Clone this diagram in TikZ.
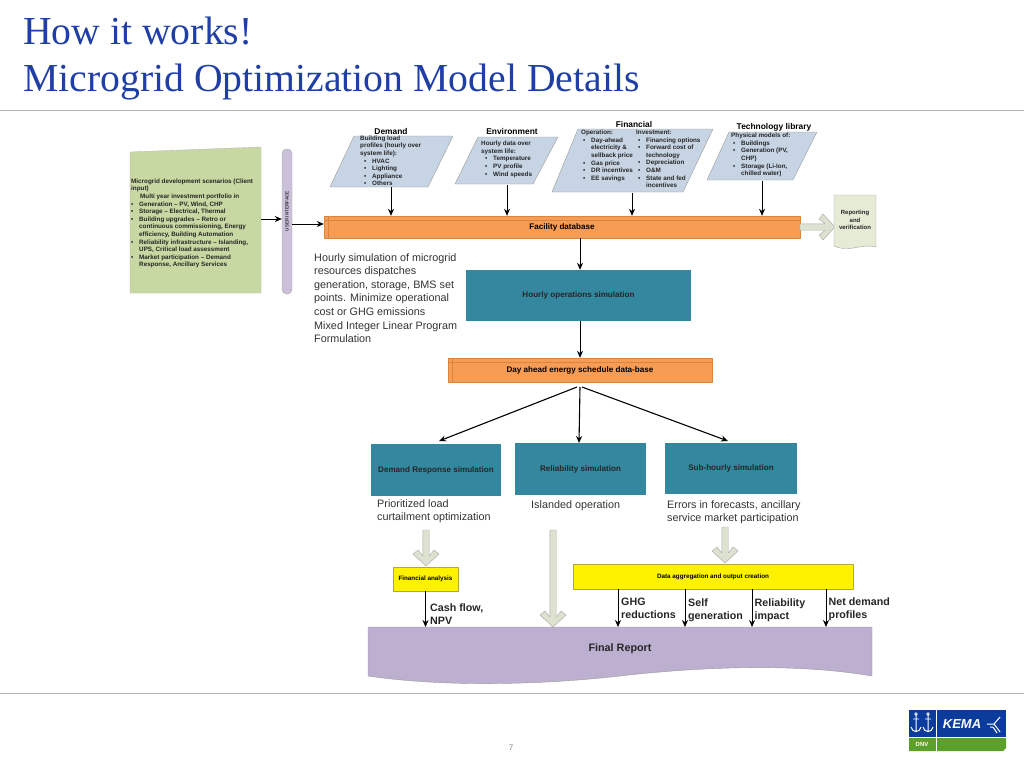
\documentclass[tikz,border=0pt]{standalone}
\usepackage{fontspec}
\usetikzlibrary{arrows.meta}
\setmainfont{Liberation Sans}
\newfontfamily\titlefont{Liberation Serif}
\definecolor{titleblue}{HTML}{1F3FA6}
\definecolor{rulegrey}{HTML}{B4B4B4}
\definecolor{scenariogreen}{HTML}{C8D8A2}
\definecolor{uililac}{HTML}{CBC0DA}
\definecolor{inputblue}{HTML}{C6D4E4}
\definecolor{dbaorange}{HTML}{F69C55}
\definecolor{dbedge}{HTML}{D9853F}
\definecolor{simteal}{HTML}{33879F}
\definecolor{reportlilac}{HTML}{BDAFD0}
\definecolor{arrowgrey}{HTML}{DDE2D0}
\definecolor{docgreen}{HTML}{E6EBD6}
\definecolor{kemablue}{HTML}{0B3C9C}
\definecolor{kemagreen}{HTML}{5CA02C}
\definecolor{textgrey}{HTML}{333333}
\newcommand{\bul}{\makebox[8pt][l]{\textbullet}}
\newcommand{\cont}{\hspace*{8pt}}
\newcommand{\blockarrow}[3]{%
  \draw[blockarrow, shift={(#1)}, rotate=#2] (0,0) -- (13,-12) -- (8,-16) -- (3.2,-10)
    -- (3.2,-#3) -- (-3.2,-#3) -- (-3.2,-10) -- (-8,-16) -- (-13,-12) -- cycle;}
\tikzset{
  blockarrow/.style={fill=arrowgrey, draw=gray!70, line width=0.4pt},
  inputshape/.style={fill=inputblue, draw=gray!80, line width=0.4pt},
  tiny text/.style={inner sep=0pt, align=left, anchor=north west, text=black!85,
    font=\fontsize{6.3}{7.6}\selectfont\bfseries},
  group title/.style={inner sep=0pt, font=\fontsize{8.4}{9}\selectfont\bfseries},
  dbbar/.style={fill=dbaorange, draw=dbedge, line width=0.4pt, inner sep=0pt,
    font=\fontsize{8.1}{9}\selectfont\bfseries},
  simbox/.style={fill=simteal, inner sep=0pt, text=black!85,
    font=\fontsize{8.1}{9}\selectfont\bfseries},
  yellowbox/.style={fill=yellow, draw=olive!70, line width=0.4pt, inner sep=0pt,
    font=\fontsize{6.3}{7}\selectfont\bfseries},
  note/.style={inner sep=0pt, align=left, anchor=north west, text=textgrey,
    font=\fontsize{10.8}{13.6}\selectfont},
  boldnote/.style={inner sep=0pt, align=left, anchor=north west, text=black!85,
    font=\fontsize{10.7}{13}\selectfont\bfseries},
  flow/.style={->, line width=0.9pt},
  thinflow/.style={->, line width=0.7pt},
}
\begin{document}
\begin{tikzpicture}[>={Stealth[length=7pt,width=6pt]}, x=1pt, y=-1pt, line join=round]
    \useasboundingbox (0,0) rectangle (1024,768);

    % Title and rules
    \node[anchor=base west, inner sep=0pt, text=titleblue, font=\fontsize{39.7}{42}\selectfont\titlefont] (titleA) at (23,45) {How it works!};
    \node[anchor=base west, inner sep=0pt, text=titleblue, font=\fontsize{39.7}{42}\selectfont\titlefont] (titleB) at (23,91) {Microgrid Optimization Model Details};
    \draw[rulegrey, line width=0.6pt] (0,110) -- (1024,110);
    \draw[rulegrey, line width=0.6pt] (0,693) -- (1024,693);
    \node[text=gray, inner sep=0pt, font=\fontsize{8}{9}\selectfont] (pageNo) at (511,748) {7};

    % Client scenarios
    \draw[fill=scenariogreen, draw=gray!60, line width=0.3pt] (130,152) -- (261,147) -- (261,293) -- (130,293) -- cycle;
    \node[tiny text] (scenarioTxt) at (131,178.5) {Microgrid development scenarios (Client\\input)\\
      \cont\hspace{1pt}Multi year investment portfolio in\\
      \bul Generation -- PV, Wind, CHP\\
      \bul Storage -- Electrical, Thermal\\
      \bul Building upgrades -- Retro or\\
      \cont continuous commissioning, Energy\\
      \cont efficiency, Building Automation\\
      \bul Reliability infrastructure -- Islanding,\\
      \cont UPS, Critical load assessment\\
      \bul Market participation -- Demand\\
      \cont Response, Ancillary Services};
    \node[fill=uililac, draw=gray!70, line width=0.4pt, rounded corners=4.5pt, minimum width=10pt, minimum height=145pt, inner sep=0pt] (uiBar) at (287,221.5) {};
    \node[rotate=90, inner sep=0pt, text=black!80, font=\fontsize{4.6}{5}\selectfont\bfseries] (uiTxt) at (287,211) {USER INTERFACE};

    % Input data groups
    \draw[inputshape] (354,136) -- (453,136) -- (428,187) -- (330,187) -- cycle;
    \node[group title] (demandTtl) at (391,131) {Demand};
    \node[tiny text] (demandTxt) at (360,135.5) {Building load\\profiles (hourly over\\system life):\\
      \hspace{4pt}\bul HVAC\\\hspace{4pt}\bul Lighting\\\hspace{4pt}\bul Appliance\\\hspace{4pt}\bul Others};
    \coordinate (demandOut) at (391,187);

    \draw[inputshape] (478,137) -- (558,137) -- (533,184) -- (455,184) -- cycle;
    \node[group title] (envTtl) at (512,131.5) {Environment};
    \node[tiny text] (envTxt) at (481,141) {Hourly data over\\system life:\\
      \hspace{4pt}\bul Temperature\\\hspace{4pt}\bul PV profile\\\hspace{4pt}\bul Wind speeds};
    \coordinate (envOut) at (507,185);

    \draw[inputshape] (578,129) -- (713,129) -- (683,192) -- (552,192) -- cycle;
    \node[group title] (finTtl) at (634,124.5) {Financial};
    \node[tiny text] (opTxt) at (581,130) {Operation:\\
      \hspace{2pt}\bul Day-ahead\\\hspace{2pt}\cont electricity \&\\\hspace{2pt}\cont sellback price\\
      \hspace{2pt}\bul Gas price\\\hspace{2pt}\bul DR incentives\\\hspace{2pt}\bul EE savings};
    \node[tiny text] (invTxt) at (636,130) {Investment:\\
      \hspace{2pt}\bul Financing options\\\hspace{2pt}\bul Forward cost of\\\hspace{2pt}\cont technology\\
      \hspace{2pt}\bul Depreciation\\\hspace{2pt}\bul O\&M\\\hspace{2pt}\bul State and fed\\\hspace{2pt}\cont incentives};
    \coordinate (finOut) at (632,193);

    \draw[inputshape] (729,132) -- (817,132) -- (793,180) -- (707,180) -- cycle;
    \node[group title] (techTtl) at (774,127.5) {Technology library};
    \node[tiny text] (techTxt) at (731,133) {Physical models of:\\
      \hspace{2pt}\bul Buildings\\\hspace{2pt}\bul Generation (PV,\\\hspace{2pt}\cont CHP)\\
      \hspace{2pt}\bul Storage (Li-Ion,\\\hspace{2pt}\cont chilled water)};
    \coordinate (techOut) at (762,181);

    % Facility database
    \node[dbbar, minimum width=476pt, minimum height=22pt] (facilityDb) at (562,227) {Facility database};
    \draw[dbedge, line width=0.6pt] (324,220) -- (800,220) (328,216) -- (328,238);
    \draw[flow] (demandOut) -- (facilityDb.north -| demandOut);
    \draw[flow] (envOut) -- (facilityDb.north -| envOut);
    \draw[flow] (finOut) -- (facilityDb.north -| finOut);
    \draw[flow] (techOut) -- (facilityDb.north -| techOut);
    \coordinate (scenarioOut) at (261,219);
    \coordinate (uiOut) at (292,224);
    \draw[flow] (scenarioOut) -- (uiBar.west |- scenarioOut);
    \draw[flow] (uiOut) -- (facilityDb.west |- uiOut);

    % Reporting
    \blockarrow{835,227}{90}{35}
    \draw[fill=docgreen, draw=gray!70, line width=0.4pt] (834,195) -- (876,195) -- (876,247)
       .. controls (862,243) and (850,253) .. (834,246) -- cycle;
    \node[inner sep=0pt, align=center, text=black!85, font=\fontsize{6}{7.6}\selectfont\bfseries] (reportTxt) at (855,220) {Reporting\\and\\verification};

    % Simulation chain
    \node[note] (hourlyNote) at (314,253) {Hourly simulation of microgrid\\resources dispatches\\generation, storage, BMS set\\points. Minimize operational\\cost or GHG emissions\\Mixed Integer Linear Program\\Formulation};
    \node[simbox, minimum width=225pt, minimum height=51pt] (hourlySim) at (578.5,295.5) {Hourly operations simulation};
    \draw[flow] (facilityDb.south -| 580,0) -- (hourlySim.north -| 580,0);
    \node[dbbar, minimum width=264pt, minimum height=24pt] (dayAheadDb) at (580,370) {Day ahead energy schedule data-base};
    \draw[dbedge, line width=0.6pt] (448,362) -- (712,362) (452,358) -- (452,382);
    \draw[flow] (hourlySim.south -| 580,0) -- (dayAheadDb.north -| 580,0);

    \node[simbox, minimum width=130pt, minimum height=52pt] (drSim) at (436,470) {Demand Response simulation};
    \node[simbox, minimum width=131pt, minimum height=52pt] (relSim) at (580.5,469) {Reliability simulation};
    \node[simbox, minimum width=132pt, minimum height=51pt] (subSim) at (731,468.5) {Sub-hourly simulation};
    \coordinate (splitA) at (577,387);
    \coordinate (splitB) at (580,387);
    \coordinate (splitC) at (582,387);
    \coordinate (drIn) at (439,441);
    \coordinate (relIn) at (579,443);
    \coordinate (subIn) at (728,441);
    \draw[flow, line width=1.1pt] (splitA) -- (drIn);
    \draw[flow, line width=1.1pt] (splitB) -- (relIn);
    \draw[flow, line width=1.1pt] (splitC) -- (subIn);
    \node[note] (drNote) at (377,499) {Prioritized load\\curtailment optimization};
    \node[note] (relNote) at (531,500.5) {Islanded operation};
    \node[note] (subNote) at (667,500) {Errors in forecasts, ancillary\\service market participation};

    % Final report and outputs
    \draw[fill=reportlilac, draw=gray!80, line width=0.4pt] (368,627) -- (872,627) -- (872,676)
       .. controls (790,662) and (690,668) .. (620,676) .. controls (550,684) and (450,688) .. (368,676) -- cycle;
    \node[inner sep=0pt, text=black!85, font=\fontsize{10.8}{12}\selectfont\bfseries] (finalTxt) at (620,649) {Final Report};
    \coordinate (finalTop) at (620,627);
    \blockarrow{426,566}{0}{36}
    \blockarrow{553,627}{0}{97}
    \blockarrow{725,563}{0}{36}
    \node[yellowbox, minimum width=65pt, minimum height=24pt] (finBox) at (425.5,579) {Financial analysis};
    \node[yellowbox, minimum width=280pt, minimum height=25pt] (dataBox) at (713,576.5) {Data aggregation and output creation};
    \draw[thinflow] (finBox.south) -- (finBox.south |- finalTop);
    \coordinate (ghgOut) at (618,589);
    \coordinate (selfOut) at (685,589);
    \coordinate (relOut) at (752,589);
    \coordinate (netOut) at (826,589);
    \draw[thinflow] (ghgOut) -- (ghgOut |- finalTop);
    \draw[thinflow] (selfOut) -- (selfOut |- finalTop);
    \draw[thinflow] (relOut) -- (relOut |- finalTop);
    \draw[thinflow] (netOut) -- (netOut |- finalTop);
    \node[boldnote] (cashTxt) at (430,603.5) {Cash flow,\\NPV};
    \node[boldnote] (ghgTxt) at (621,597.5) {GHG\\reductions};
    \node[boldnote] (selfTxt) at (688,599) {Self\\generation};
    \node[boldnote] (relTxt) at (754.5,599) {Reliability\\impact};
    \node[boldnote] (netTxt) at (828.5,597.5) {Net demand\\profiles};

    % Logo
    \fill[kemablue] (909,710) rectangle (1006,737);
    \fill[kemagreen] (909,738) rectangle (1003,751) (1003,738) rectangle (1006,748);
    \fill[kemagreen] (1003,751) -- (1006,748) -- (1003,748) -- cycle;
    \draw[white, line width=0.8pt] (936,710) -- (936,751);
    \node[inner sep=0pt, text=white, font=\fontsize{6}{7}\selectfont\bfseries] (dnvTxt) at (922,744.5) {DNV};
    \node[inner sep=0pt, text=white, font=\fontsize{13}{14}\selectfont\bfseries\itshape] (kemaTxt) at (962,724) {KEMA};
    \foreach \ax in {916,928}{
      \draw[white, line width=1pt] (\ax,714) -- (\ax,732) (\ax-5,727) .. controls (\ax-4,733) and (\ax+4,733) .. (\ax+5,727);
      \draw[white, line width=0.8pt] (\ax,714) circle (1.4pt) (\ax-3,719) -- (\ax+3,719);
    }
    \draw[white, line width=1pt] (987,724) -- (994,724) -- (1000,717) (994,724) -- (1000,732) (990,727) -- (993,727) -- (997,733);
\end{tikzpicture}
\end{document}
